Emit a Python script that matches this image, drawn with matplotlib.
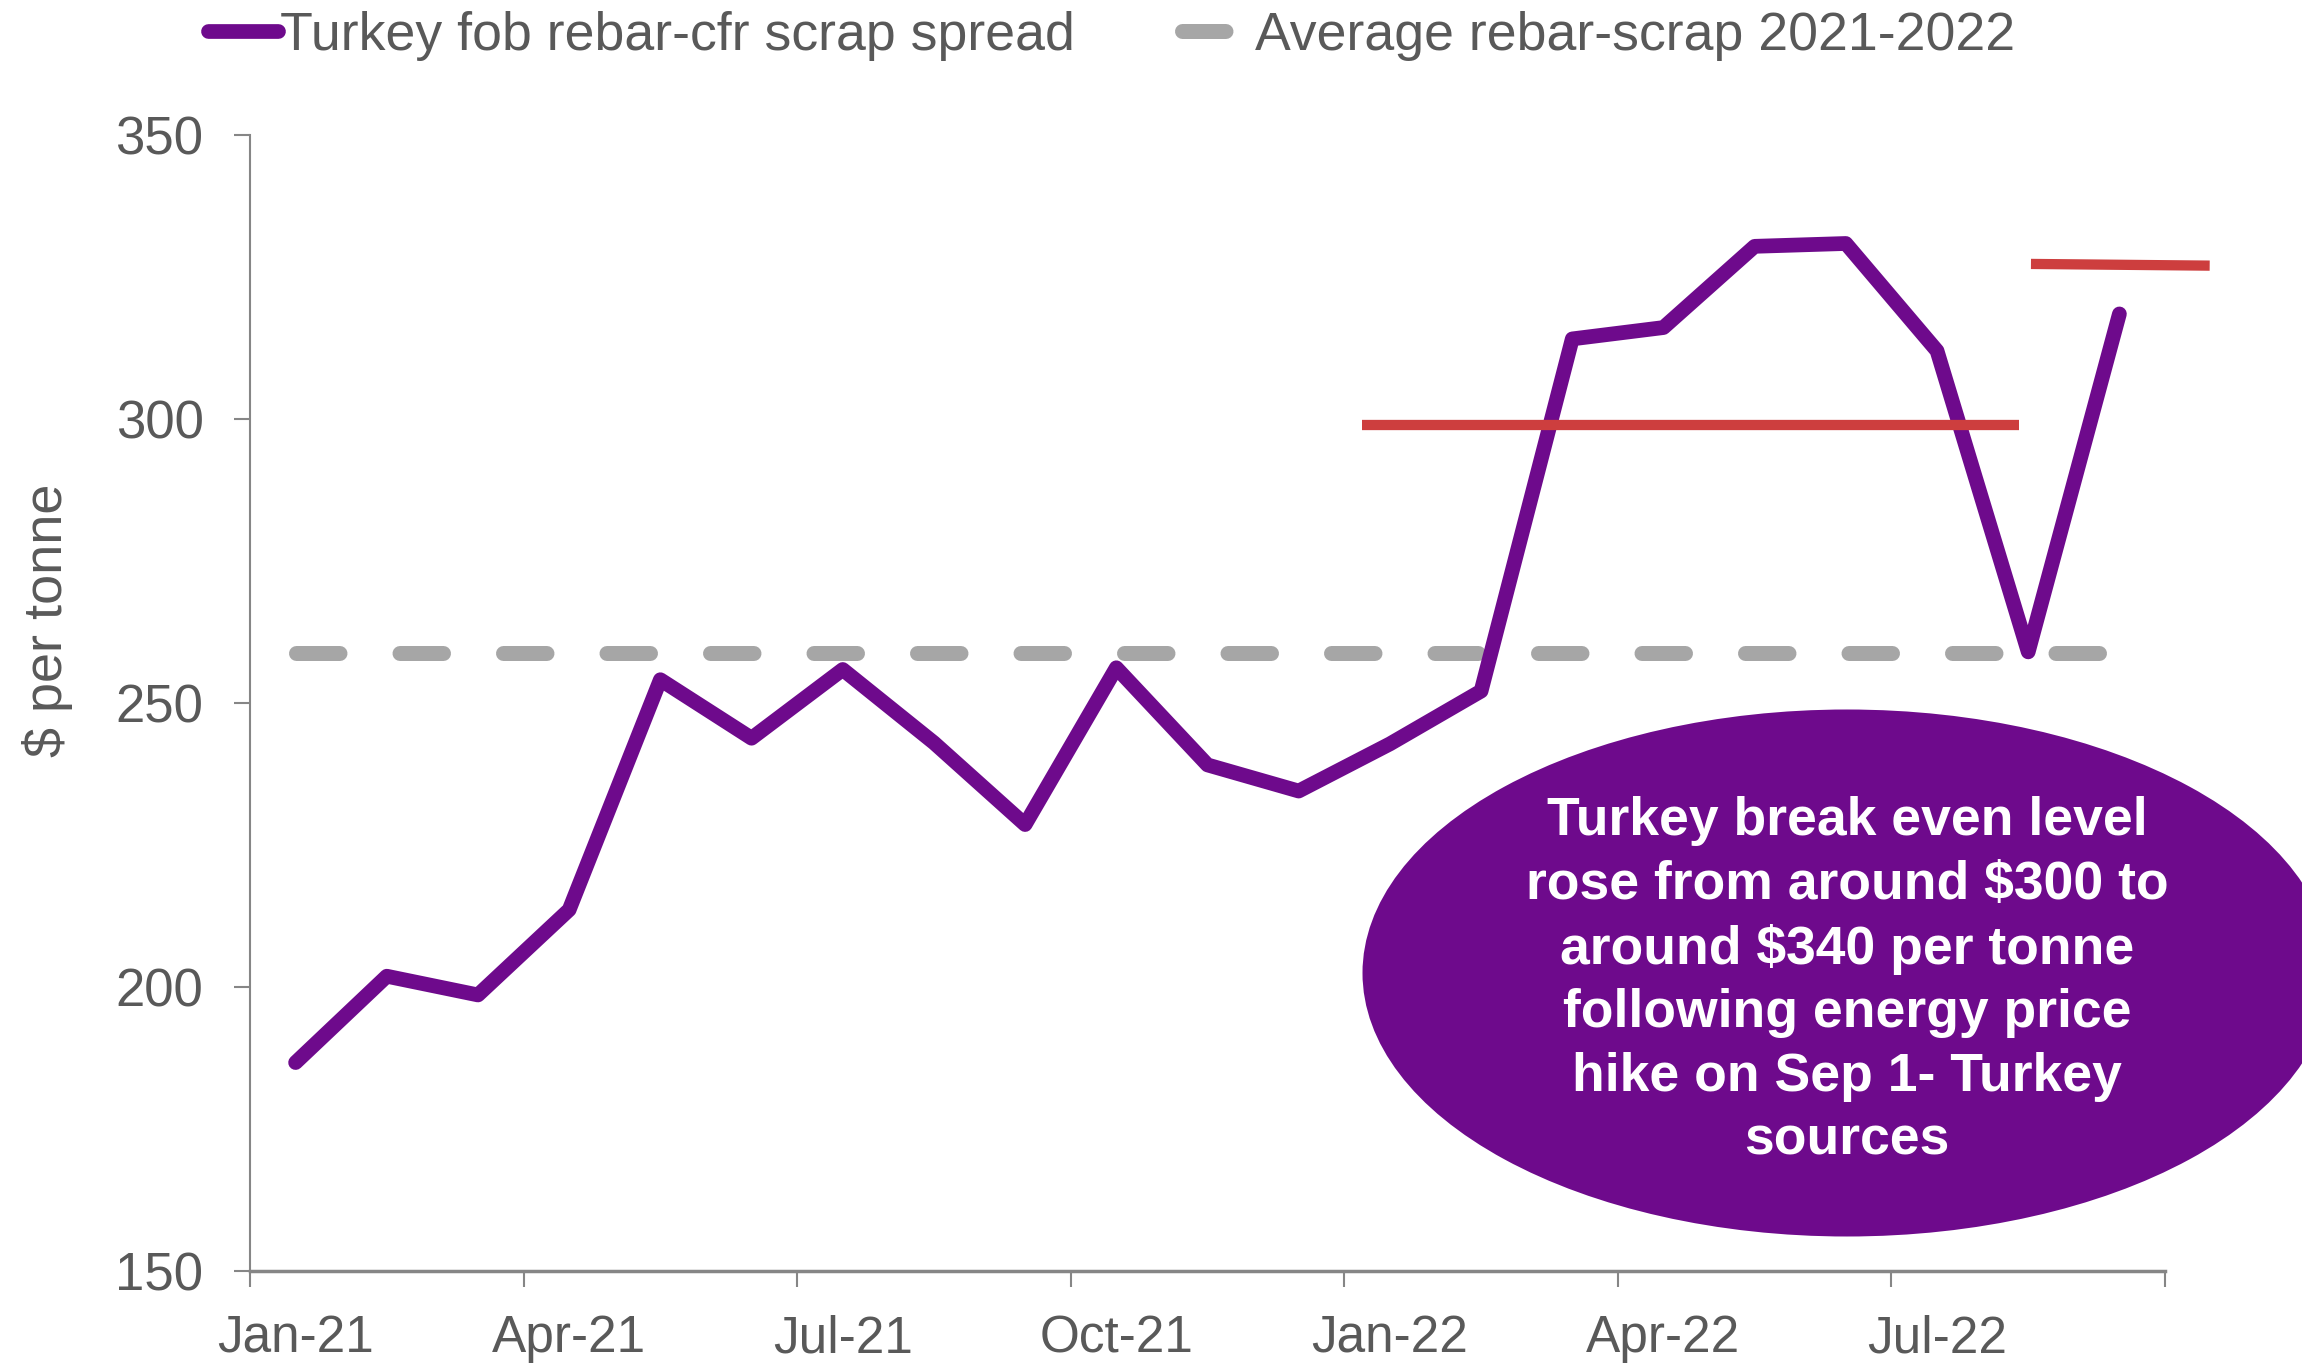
import matplotlib
matplotlib.use("Agg")
import matplotlib.pyplot as plt
from matplotlib.patches import Ellipse
from matplotlib.lines import Line2D

# =========================
# Data
# =========================
months = ["Jan-21", "Feb-21", "Mar-21", "Apr-21", "May-21", "Jun-21", "Jul-21",
          "Aug-21", "Sep-21", "Oct-21", "Nov-21", "Dec-21", "Jan-22", "Feb-22",
          "Mar-22", "Apr-22", "May-22", "Jun-22", "Jul-22", "Aug-22", "Sep-22"]
spread = [186.7, 201.9, 198.6, 213.6, 254.1, 243.8, 255.9, 243.0, 228.6, 256.2,
          239.1, 234.5, 242.8, 252.1, 314.1, 316.1, 330.4, 330.9, 312.0, 259.0, 318.5]
average_level = 258.8
tick_labels = ["Jan-21", "Apr-21", "Jul-21", "Oct-21", "Jan-22", "Apr-22", "Jul-22"]

# break-even markers (drawn shapes in the original)
be_old_x = [11.69, 18.9]
be_old_y = [299.0, 299.0]
be_new_x = [19.03, 20.99]
be_new_y = [327.3, 327.0]

note = ("Turkey break even level\nrose from around $300 to\naround $340 per tonne\n"
        "following energy price\nhike on Sep 1- Turkey\nsources")

PURPLE = "#6E0A8C"
GREY = "#A6A6A6"
RED = "#CD3E3E"
TEXT = "#595959"
AXIS = "#868686"

plt.rcParams["font.family"] = ["Liberation Sans", "DejaVu Sans"]

fig = plt.figure(figsize=(23.02, 13.63), dpi=100)
ax = fig.add_axes([250 / 2302, 1 - 1271 / 1363, 1915 / 2302, 1136 / 1363])

x = list(range(len(months)))
ax.plot(x, spread, color=PURPLE, lw=10.6, solid_capstyle="round",
        solid_joinstyle="round", zorder=4)
ax.plot(x, [average_level] * len(x), color=GREY, lw=10.8,
        dash_capstyle="round", linestyle=(0, (2.9, 4.0)), zorder=3)

ax.plot(be_old_x, be_old_y, color=RED, lw=7.4, solid_capstyle="butt", clip_on=False, zorder=5)
ax.plot(be_new_x, be_new_y, color=RED, lw=7.4, solid_capstyle="butt", clip_on=False, zorder=5)

ax.set_xlim(-0.5, len(months) - 0.5)
ax.set_ylim(150, 350)
ax.set_yticks([150, 200, 250, 300, 350])

# tick marks at category boundaries, labels at category centres
ax.set_xticks([i - 0.5 for i in range(0, len(months) + 1, 3)])
ax.set_xticklabels([])
ax.set_xticks([months.index(m) for m in tick_labels], minor=True)
ax.set_xticklabels(tick_labels, minor=True)
ax.tick_params(axis="x", which="major", length=11.5, width=1.5, color=AXIS)
ax.tick_params(axis="x", which="minor", length=0, pad=31, labelsize=37, labelcolor=TEXT)
ax.tick_params(axis="y", length=11.5, width=1.5, color=AXIS, pad=22,
               labelsize=38, labelcolor=TEXT)

for s in ["top", "right"]:
    ax.spines[s].set_visible(False)
ax.spines["left"].set_color(AXIS)
ax.spines["left"].set_linewidth(1.5)
ax.spines["bottom"].set_color(AXIS)
ax.spines["bottom"].set_linewidth(2.5)

ax.set_ylabel("$ per tonne", fontsize=39, color=TEXT)
ax.yaxis.set_label_coords(-0.0924, 0.573)

# annotation bubble
ell = Ellipse((1847 / 2302, 1 - 973 / 1363), 969 / 2302, 527 / 1363,
              transform=fig.transFigure, facecolor=PURPLE, edgecolor="none", zorder=6)
fig.patches.append(ell)
fig.text(1847 / 2302, 1 - 981 / 1363, note, ha="center", va="center",
         multialignment="center", color="white", fontsize=38.5, fontweight="bold",
         linespacing=1.35, zorder=7)

handles = [Line2D([], [], color=PURPLE, lw=10.6, solid_capstyle="round"),
           Line2D([], [], color=GREY, lw=10.8, dash_capstyle="round", linestyle=(0, (2.9, 4.0)))]
fig.legend(handles, ["Turkey fob rebar-cfr scrap spread", "Average rebar-scrap 2021-2022"],
           loc="center left", bbox_to_anchor=(208 / 2302, 1 - 36 / 1363), ncol=2,
           frameon=False, fontsize=38.6, labelcolor=TEXT, handlelength=1.3,
           handletextpad=0.05, columnspacing=2.0, borderpad=0, borderaxespad=0)

fig.savefig("out.png", dpi=100)
